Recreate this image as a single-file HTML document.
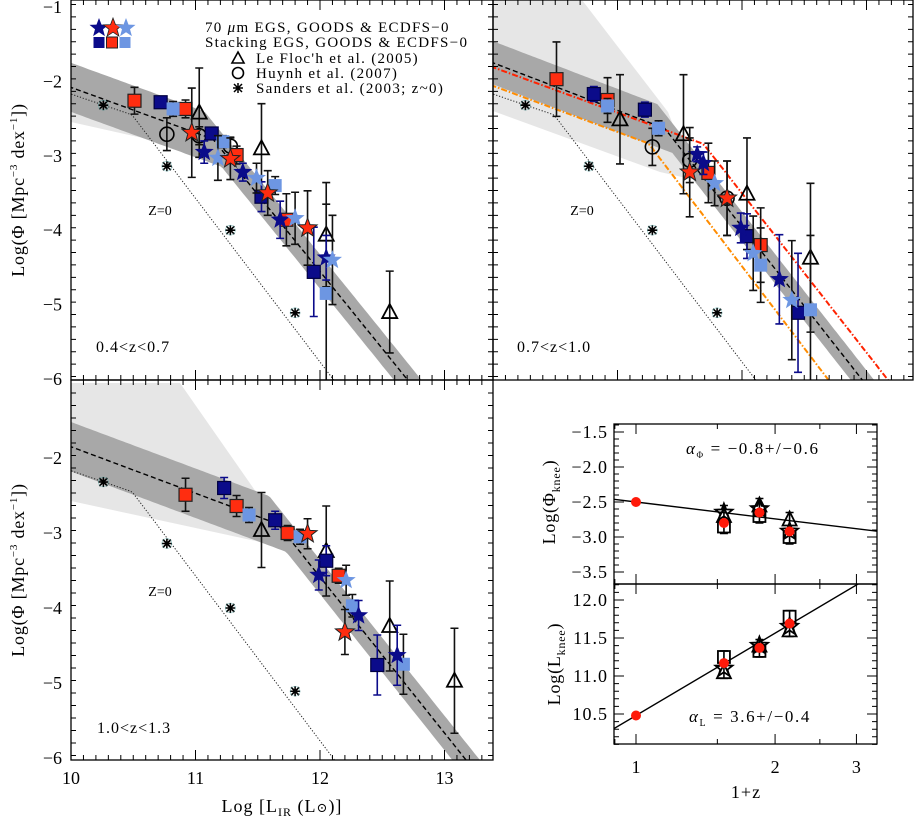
<!DOCTYPE html>
<html><head><meta charset="utf-8">
<style>
html,body{margin:0;padding:0;background:#fff;overflow:hidden;width:914px;height:821px;}
svg{display:block;font-family:"Liberation Serif","DejaVu Serif",serif;}
</style></head>
<body>
<svg id="fig" width="914" height="821" viewBox="0 0 914 821" xmlns="http://www.w3.org/2000/svg">
<defs>
<clipPath id="c1"><rect x="71" y="0" width="422" height="380"/></clipPath>
<clipPath id="c2"><rect x="493" y="0" width="420" height="380"/></clipPath>
<clipPath id="c3"><rect x="71" y="380" width="422" height="380"/></clipPath>
<clipPath id="c4"><rect x="614" y="424" width="263" height="160"/></clipPath>
<clipPath id="c5"><rect x="614" y="584" width="263" height="160"/></clipPath>
</defs>
</svg>
<script>
// ---------- DATA ----------
const p1Model=[-2.08,-0.61,11.14,-2.07];
const p2Model=[-1.75,-0.64,11.38,-2.13];
const p3Model=[-1.85,-0.62,11.66,-2.08];
const z0Model=[-2.17,-0.57,10.49,-2.20];
const p2Red=[-1.81,-0.61,11.69,-2.14];
const p2Orange=[-2.06,-0.62,11.25,-2.20];
const bandHalf=[0.33,0.23];
const sandL=[10.26,10.77,11.28,11.80];
const sandV=[-2.32,-3.14,-4.00,-5.11];
const p1RsL=[10.51,10.92,11.33,11.73], p1RsV=[-2.26,-2.37,-2.99,-3.86], p1RsE=[0.18,0.12,0.12,0.35];
const p1DsL=[10.72,11.13,11.53,11.95], p1DsV=[-2.28,-2.70,-3.55,-4.56], p1DsE=[0.08,0.08,0.2,0.6];
const p1LsL=[10.82,11.22,11.64,12.05], p1LsV=[-2.37,-2.81,-3.40,-4.85], p1LsE=[0.1,0.08,0.12,1.2];
const p1DstL=[11.07,11.38,11.68,12.05], p1DstV=[-2.95,-3.22,-3.86,-4.37], p1DstE=[0.15,0.12,0.25,0.3];
const p1LstL=[11.18,11.49,11.80,12.10], p1LstV=[-3.03,-3.30,-3.84,-4.40], p1LstE=[0.3,0.2,0.35,0.6];
const p1RstL=[10.97,11.28,11.58,11.90], p1RstV=[-2.69,-3.04,-3.50,-3.97], p1RstE=[0.6,0.28,0.3,0.5];
const p1TrL=[11.03,11.53,12.05,12.56], p1TrV=[-2.42,-2.90,-4.06,-5.10], p1TrE=[0.6,0.6,0.7,0.55];
const p1CiL=[10.77,11.03,11.28], p1CiV=[-2.71,-2.73,-2.87], p1CiE=[0.22,0.12,0.12];
const p2RsL=[10.51,10.92,11.73,12.15], p2RsV=[-1.97,-2.25,-3.23,-4.20], p2RsE=[0.5,0.3,0.4,0.5];
const p2DsL=[10.81,11.22,12.04,12.45], p2DsV=[-2.17,-2.38,-4.08,-5.11], p2DsE=[0.1,0.1,0.3,0.8];
const p2LsL=[10.92,11.33,12.15,12.55], p2LsV=[-2.33,-2.63,-4.47,-5.07], p2LsE=[0.1,0.1,0.5,1.0];
const p2DstL=[11.64,11.69,11.99,12.30], p2DstV=[-2.98,-3.10,-3.97,-4.66], p2DstE=[0.1,0.15,0.2,0.6];
const p2LstL=[11.78,12.09,12.40], p2LstV=[-3.37,-4.31,-4.94], p2LstE=[0.3,0.5,0.8];
const p2RstL=[11.58,11.88], p2RstV=[-3.22,-3.57], p2RstE=[0.6,0.5];
const p2TrL=[11.02,11.53,12.04,12.55], p2TrV=[-2.51,-2.71,-3.51,-4.37], p2TrE=[0.6,0.8,0.75,1.0];
const p2CiL=[11.28,11.58,11.88], p2CiV=[-2.88,-3.06,-3.57], p2CiE=[0.25,0.3,0.5];
const p3RsL=[10.92,11.33,11.74,12.15], p3RsV=[-2.49,-2.64,-3.00,-3.57], p3RsE=[0.22,0.14,0.1,0.1];
const p3DsL=[11.23,11.64,12.05,12.46], p3DsV=[-2.40,-2.83,-3.37,-4.76], p3DsE=[0.14,0.12,0.2,0.4];
const p3LsL=[11.43,11.84,12.26,12.67], p3LsV=[-2.76,-3.05,-3.97,-4.75], p3LsE=[0.1,0.1,0.15,0.4];
const p3DstL=[11.99,12.31,12.62], p3DstV=[-3.56,-4.10,-4.63], p3DstE=[0.2,0.2,0.4];
const p3LstL=[12.21], p3LstV=[-3.63], p3LstE=[0.2];
const p3RstL=[11.90,12.20], p3RstV=[-3.01,-4.32], p3RstE=[0.2,0.3];
const p3TrL=[11.53,12.05,12.56,13.08], p3TrV=[-2.96,-3.24,-4.24,-4.97], p3TrE=[0.5,0.6,0.6,0.7];
const kneeZ=[1.0,1.55,1.85,2.15];
const kneePhi=[-2.50,-2.80,-2.65,-2.92];
const kneeLum=[10.48,11.17,11.37,11.69];
const fitPhi=[-2.50,-0.8];
const fitLum=[10.48,3.6];
const kneeZb=[1.55,1.85,2.15];
const kneePhiSq=[-2.85,-2.70,-3.00], kneePhiTr=[-2.70,-2.55,-2.75], kneePhiSt=[-2.65,-2.60,-2.92];
const kneeLumSq=[11.25,11.33,11.78], kneeLumTr=[11.05,11.40,11.60], kneeLumSt=[11.10,11.40,11.65];

// ---------- HELPERS ----------
const NS="http://www.w3.org/2000/svg";
const svg=document.getElementById('fig');
function E(parent,tag,a){const e=document.createElementNS(NS,tag);for(const k in a)e.setAttribute(k,a[k]);parent.appendChild(e);return e;}
function G(parent,clip){const g=E(parent,'g',clip?{'clip-path':'url(#'+clip+')'}:{});return g;}
const P1={X:L=>71+(L-10)*124.5,Y:v=>7+(-1-v)*74.4};
const P2={X:L=>493+(L-10)*124.5,Y:v=>7+(-1-v)*74.4};
const P3={X:L=>71+(L-10)*124.5,Y:v=>458+(-2-v)*75};
const K1={X:z=>636+462*Math.log10(z),Y:v=>432+(-1.5-v)*70};
const K2={X:z=>636+462*Math.log10(z),Y:v=>600+(12-v)*76};
function broken(m,L){return L<m[2]?m[0]+m[1]*(L-10):m[0]+m[1]*(m[2]-10)+m[3]*(L-m[2]);}
function shifted(m,h1,h2){const lk=m[2]+(h2-h1)/(m[1]-m[3]);return [m[0]+h1,m[1],lk,m[3]];}
function linePts(P,m){let s=[];for(let L=9.98;L<=13.45;L+=0.02){const v=broken(m,L);s.push(P.X(L).toFixed(1)+','+P.Y(v).toFixed(1));if(v<-6.15)break;}return s;}
const C={navy:'#0b0b8a',red:'#ff2d10',light:'#6d96e2'};

function starPath(cx,cy,r){let d='';for(let i=0;i<10;i++){const a=-Math.PI/2+i*Math.PI/5;const rr=i%2?r*0.42:r;d+=(i?'L':'M')+(cx+rr*Math.cos(a)).toFixed(1)+','+(cy+rr*Math.sin(a)).toFixed(1);}return d+'Z';}
function errBar(g,x,y0,y1,col,ymax){
  const yb=Math.min(y1,ymax||821);
  const l=E(g,'path',{d:`M${x},${y0}V${yb}M${x-4},${y0}h8M${x-4},${yb}h8`,stroke:col,'stroke-width':1.6,fill:'none'});
  
  
}
function series(g,P,Ls,Vs,Es,kind,col,name){
  for(let i=0;i<Ls.length;i++){
    const x=P.X(Ls[i]),y=P.Y(Vs[i]);
    if(Es){const ec=(col===C.navy)?C.navy:'#111';errBar(g,x,P.Y(Vs[i]+Es[i]),P.Y(Vs[i]-Es[i]),ec,P.Y(-6.1));}
    let m;
    if(kind==='sq'){m=E(g,'rect',{x:x-6.5,y:y-6.5,width:13,height:13,fill:col,stroke:col===C.red?'#222':(col===C.navy?'#000040':'none'),'stroke-width':1.2});}
    else if(kind==='star'){m=E(g,'path',{d:starPath(x,y,10),fill:col,stroke:col===C.red?'#222':'none','stroke-width':1});}
    else if(kind==='tri'){m=E(g,'path',{d:`M${x},${y-8}L${x+7.5},${y+6}L${x-7.5},${y+6}Z`,fill:'none',stroke:'#000','stroke-width':1.8});}
    else if(kind==='ci'){m=E(g,'circle',{cx:x,cy:y,r:7,fill:'none',stroke:'#000','stroke-width':1.6});}
    else if(kind==='ast'){m=E(g,'path',{d:`M${x-5},${y}h10M${x},${y-5}v10M${x-4},${y-4}l8,8M${x+4},${y-4}l-8,8`,stroke:'#000','stroke-width':1.6,fill:'none'});
      const h=E(g,'circle',{cx:x,cy:y,r:5,fill:'none',stroke:'#5aa','stroke-width':0.6,opacity:0.6});}
    
    
  }
}
function text(parent,x,y,str,size,anchor,name,extra){
  const t=E(parent,'text',Object.assign({x:x,y:y,'font-size':size,'text-anchor':anchor||'start',fill:'#000'},extra||{}));
  t.innerHTML=str;
  
  
  return t;
}
function frameTicks(g,x0,y0,x1,y1,xs,ys,name){
  const r=E(g,'rect',{x:x0,y:y0,width:x1-x0,height:y1-y0,fill:'none',stroke:'#000','stroke-width':1.3});
  
  
  let d='';
  xs.forEach(t=>{const len=t[1]?10:5;d+=`M${t[0]},${y1}v${-len}M${t[0]},${y0}v${len}`;});
  ys.forEach(t=>{const len=t[1]?10:5;d+=`M${x0},${t[0]}h${len}M${x1},${t[0]}h${-len}`;});
  const p=E(g,'path',{d:d,stroke:'#000','stroke-width':1,fill:'none'});
  
  
}

function mainPanel(P,clip,model,half,light,extra,data,name){
  const g=G(svg,clip);
  
  
  const lp=E(g,'polygon',{points:light.map(p=>p.join(',')).join(' '),fill:'#e6e6e6'});
  
  
  const up=linePts(P,shifted(model,half[0],half[1])),lo=linePts(P,shifted(model,-half[0],-half[1])).reverse();
  const band=E(g,'polygon',{points:up.concat(lo).join(' '),fill:'#a8a8a8'});
  
  
  const z0=E(g,'polyline',{points:linePts(P,z0Model).join(' '),fill:'none',stroke:'#222','stroke-width':1,'stroke-dasharray':'1.2,1.8'});
  
  
  extra(g);
  const dl=E(g,'polyline',{points:linePts(P,model).join(' '),fill:'none',stroke:'#000','stroke-width':1.4,'stroke-dasharray':'5,3'});
  
  
  series(g,P,sandL,sandV,null,'ast','#000','sanders-point');
  data(g);
}
function axisTicksMain(P,x0,x1,y0,y1,name){
  const xs=[];for(let i=100;i<=134;i++){const L=i/10;const x=P.X(L);if(x>x0&&x<x1)xs.push([x,i%10===0]);}
  const ys=[];
  for(let j=0;j<=36;j++){const v=-0.8-j/6;const y=P.Y(v);if(y>y0+1&&y<y1-1)ys.push([y,Math.abs(v-Math.round(v))<1e-6]);}
  frameTicks(svg,x0,y0,x1,y1,xs,ys,name);
}

mainPanel(P1,'c1',p1Model,bandHalf,[[71,92],[235,150],[205,152],[71,122]],g=>{},g=>{
  series(g,P1,p1TrL,p1TrV,p1TrE,'tri','#000','leflorch-triangle');
  series(g,P1,p1CiL,p1CiV,p1CiE,'ci','#000','huynh-circle');
  series(g,P1,p1RsL,p1RsV,p1RsE,'sq',C.red,'stacking-red-square');
  series(g,P1,p1DsL,p1DsV,p1DsE,'sq',C.navy,'stacking-navy-square');
  series(g,P1,p1LsL,p1LsV,p1LsE,'sq',C.light,'stacking-lightblue-square');
  series(g,P1,p1DstL,p1DstV,p1DstE,'star',C.navy,'70um-navy-star');
  series(g,P1,p1LstL,p1LstV,p1LstE,'star',C.light,'70um-lightblue-star');
  series(g,P1,p1RstL,p1RstV,p1RstE,'star',C.red,'70um-red-star');
},'panel-z04-07');
mainPanel(P2,'c2',p2Model,[0.29,0.2],[[493,0],[582,0],[668,112],[695,180],[660,172],[493,111]],g=>{
  const r=E(g,'polyline',{points:linePts(P2,p2Red).join(' '),fill:'none',stroke:'#ff2200','stroke-width':2,'stroke-dasharray':'6,2,1.5,2'});
  
  
  const o=E(g,'polyline',{points:linePts(P2,p2Orange).join(' '),fill:'none',stroke:'#ff8c00','stroke-width':2,'stroke-dasharray':'6,2,1.5,2'});
  
  
},g=>{
  series(g,P2,p2TrL,p2TrV,p2TrE,'tri','#000','leflorch-triangle');
  series(g,P2,p2CiL,p2CiV,p2CiE,'ci','#000','huynh-circle');
  series(g,P2,p2RsL,p2RsV,p2RsE,'sq',C.red,'stacking-red-square');
  series(g,P2,p2DsL,p2DsV,p2DsE,'sq',C.navy,'stacking-navy-square');
  series(g,P2,p2LsL,p2LsV,p2LsE,'sq',C.light,'stacking-lightblue-square');
  series(g,P2,p2DstL,p2DstV,p2DstE,'star',C.navy,'70um-navy-star');
  series(g,P2,p2LstL,p2LstV,p2LstE,'star',C.light,'70um-lightblue-star');
  series(g,P2,p2RstL,p2RstV,p2RstE,'star',C.red,'70um-red-star');
},'panel-z07-10');
mainPanel(P3,'c3',p3Model,bandHalf,[[71,383],[180,383],[323,588],[288,548],[71,501]],g=>{},g=>{
  series(g,P3,p3TrL,p3TrV,p3TrE,'tri','#000','leflorch-triangle');
  series(g,P3,p3RsL,p3RsV,p3RsE,'sq',C.red,'stacking-red-square');
  series(g,P3,p3DsL,p3DsV,p3DsE,'sq',C.navy,'stacking-navy-square');
  series(g,P3,p3LsL,p3LsV,p3LsE,'sq',C.light,'stacking-lightblue-square');
  series(g,P3,p3DstL,p3DstV,p3DstE,'star',C.navy,'70um-navy-star');
  series(g,P3,p3LstL,p3LstV,p3LstE,'star',C.light,'70um-lightblue-star');
  series(g,P3,p3RstL,p3RstV,p3RstE,'star',C.red,'70um-red-star');
},'panel-z10-13');

axisTicksMain(P1,71,493,0,380,'panel1-frame');
axisTicksMain(P2,493,913,0,380,'panel2-frame');
axisTicksMain(P3,71,493,380,760,'panel3-frame');

const yTickValsTop=[-1,-2,-3,-4,-5,-6];
yTickValsTop.forEach(v=>{text(svg,62,P1.Y(v)+6,'−'+(-v),18,'end','y-tick-label-top');});
const yTickValsBot=[-2,-3,-4,-5,-6];
yTickValsBot.forEach(v=>{text(svg,62,P3.Y(v)+6,'−'+(-v),18,'end','y-tick-label-bottom');});
const xTickVals=[10,11,12,13];
xTickVals.forEach(L=>{text(svg,P3.X(L),784,String(L),18,'middle','x-tick-label');});
text(svg,282,812,'Log [L<tspan font-size="12" dy="4">IR</tspan><tspan dy="-4">  (L</tspan><tspan font-size="13">⊙</tspan>)]',18,'middle','x-axis-title',{'letter-spacing':'1'});
text(svg,0,0,'Log(Φ [Mpc<tspan font-size="11" dy="-7">−3</tspan><tspan dy="7"> dex</tspan><tspan font-size="11" dy="-7">−1</tspan><tspan dy="7">])</tspan>',18,'middle','y-axis-title-top',{transform:'translate(24,190) rotate(-90)','letter-spacing':'0.8'});
text(svg,0,0,'Log(Φ [Mpc<tspan font-size="11" dy="-7">−3</tspan><tspan dy="7"> dex</tspan><tspan font-size="11" dy="-7">−1</tspan><tspan dy="7">])</tspan>',18,'middle','y-axis-title-bottom',{transform:'translate(24,570) rotate(-90)','letter-spacing':'0.8'});

text(svg,160,215,'Z=0',14,'middle','z0-label-1');
text(svg,582,215,'Z=0',14,'middle','z0-label-2');
text(svg,160,596,'Z=0',14,'middle','z0-label-3');
text(svg,96,352,'0.4&lt;z&lt;0.7',16,'start','redshift-label-1',{'letter-spacing':'1'});
text(svg,517,352,'0.7&lt;z&lt;1.0',16,'start','redshift-label-2',{'letter-spacing':'1'});
text(svg,97,733,'1.0&lt;z&lt;1.3',16,'start','redshift-label-3',{'letter-spacing':'1'});

const lg=G(svg);


[[C.navy,99],[C.red,113],[C.light,126]].forEach(c=>{const s=E(lg,'path',{d:starPath(c[1],28,10),fill:c[0],stroke:c[0]===C.red?'#222':'none','stroke-width':0.8});});
[[C.navy,99],[C.red,112],[C.light,125]].forEach(c=>{const s=E(lg,'rect',{x:c[1]-5.5,y:37,width:11,height:11,fill:c[0],stroke:c[0]===C.red?'#222':'none'});});
text(lg,205,32,'70 <tspan font-style="italic">μ</tspan>m EGS, GOODS &amp; ECDFS−0',15,'start','legend-entry-70um',{'letter-spacing':'1.3'});
text(lg,205,47,'Stacking EGS, GOODS &amp; ECDFS−0',15,'start','legend-entry-stacking',{'letter-spacing':'1.3'});
const lt=E(lg,'path',{d:'M238,52L244,63L232,63Z',fill:'none',stroke:'#000','stroke-width':1.6});
const lc=E(lg,'circle',{cx:238,cy:73,r:5.5,fill:'none',stroke:'#000','stroke-width':1.6});
const la=E(lg,'path',{d:'M233,88h10M238,83v10M234,84l8,8M242,84l-8,8',stroke:'#000','stroke-width':1.5,fill:'none'});
text(lg,256,63,'Le Floc\'h et al. (2005)',15,'start','legend-entry-lefloch',{'letter-spacing':'1.3'});
text(lg,256,78,'Huynh et al. (2007)',15,'start','legend-entry-huynh',{'letter-spacing':'1.3'});
text(lg,256,93,'Sanders et al. (2003; z~0)',15,'start','legend-entry-sanders',{'letter-spacing':'1.3'});

function kneePanel(K,clip,vals,fit,sq,tr,st,errs,name){
  const g=G(svg,clip);
  
  
  const zs=[0.89,3.35];
  const fl=E(g,'line',{x1:K.X(zs[0]),y1:K.Y(fit[0]+fit[1]*Math.log10(zs[0])),x2:K.X(zs[1]),y2:K.Y(fit[0]+fit[1]*Math.log10(zs[1])),stroke:'#000','stroke-width':1.4});
  
  
  for(let i=0;i<kneeZb.length;i++){
    const x=K.X(kneeZb[i]);
    errBar(g,x,K.Y(Math.max(sq[i],tr[i],st[i])+errs),K.Y(Math.min(sq[i],tr[i],st[i])-errs),'#000');
    const s=E(g,'rect',{x:x-6,y:K.Y(sq[i])-6,width:12,height:12,fill:'none',stroke:'#000','stroke-width':1.8});
    const t=E(g,'path',{d:`M${x},${K.Y(tr[i])-8}L${x+7},${K.Y(tr[i])+6}L${x-7},${K.Y(tr[i])+6}Z`,fill:'none',stroke:'#000','stroke-width':1.8});
    const r=E(g,'path',{d:starPath(x,K.Y(st[i]),9),fill:'none',stroke:'#000','stroke-width':1.8});
  }
  for(let i=0;i<kneeZ.length;i++){
    const c=E(g,'circle',{cx:K.X(kneeZ[i]),cy:K.Y(vals[i]),r:5,fill:'#ff1a0a'});
    
    
  }
}
kneePanel(K1,'c4',kneePhi,fitPhi,kneePhiSq,kneePhiTr,kneePhiSt,0.1,'phi-knee-panel');
kneePanel(K2,'c5',kneeLum,fitLum,kneeLumSq,kneeLumTr,kneeLumSt,0.08,'lum-knee-panel');
(function(){
  const xs=[];[0.9,1,1.5,2,2.5,3].forEach(z=>xs.push([K1.X(z),[1,2,3].includes(z)]));
  const ys1=[];for(let v=-1.4;v>=-3.6;v-=0.1){const y=K1.Y(v);ys1.push([y,Math.abs(v*2-Math.round(v*2))<1e-6]);}
  frameTicks(svg,614,424,877,584,xs,ys1,'phi-knee-frame');
  const ys2=[];for(let v=12.2;v>=10.1;v-=0.1){const y=K2.Y(v);ys2.push([y,Math.abs(v*2-Math.round(v*2))<1e-6]);}
  frameTicks(svg,614,584,877,744,xs,ys2,'lum-knee-frame');
})();
const phiTicks=[-1.5,-2.0,-2.5,-3.0,-3.5];
phiTicks.forEach(v=>text(svg,608,K1.Y(v)+6,'−'+(-v).toFixed(1),18,'end','phi-tick-label',{'letter-spacing':'1'}));
const lumTicks=[12.0,11.5,11.0,10.5];
lumTicks.forEach(v=>text(svg,608,K2.Y(v)+6,v.toFixed(1),18,'end','lum-tick-label',{'letter-spacing':'1'}));
const zTicks=[1,2,3];
zTicks.forEach(z=>text(svg,K1.X(z),773,String(z),18,'middle','z-tick-label'));
text(svg,746,798,'1+z',18,'middle','z-axis-title',{'letter-spacing':'1'});
text(svg,0,0,'Log(Φ<tspan font-size="12" dy="5">knee</tspan><tspan dy="-5">)</tspan>',18,'middle','phi-knee-axis-title',{transform:'translate(555,502) rotate(-90)','letter-spacing':'0.8'});
text(svg,0,0,'Log(L<tspan font-size="12" dy="5">knee</tspan><tspan dy="-5">)</tspan>',18,'middle','lum-knee-axis-title',{transform:'translate(560,664) rotate(-90)','letter-spacing':'0.8'});
text(svg,686,454,'<tspan font-style="italic">α</tspan><tspan font-size="9" dy="4">Φ</tspan><tspan dy="-4">  =  −0.8+/−0.6</tspan>',17,'start','alpha-phi-label',{'letter-spacing':'1.6'});
text(svg,689,722,'<tspan font-style="italic">α</tspan><tspan font-size="10" dy="4">L</tspan><tspan dy="-4">  =  3.6+/−0.4</tspan>',17,'start','alpha-lum-label',{'letter-spacing':'1.6'});
</script>
</body></html>
